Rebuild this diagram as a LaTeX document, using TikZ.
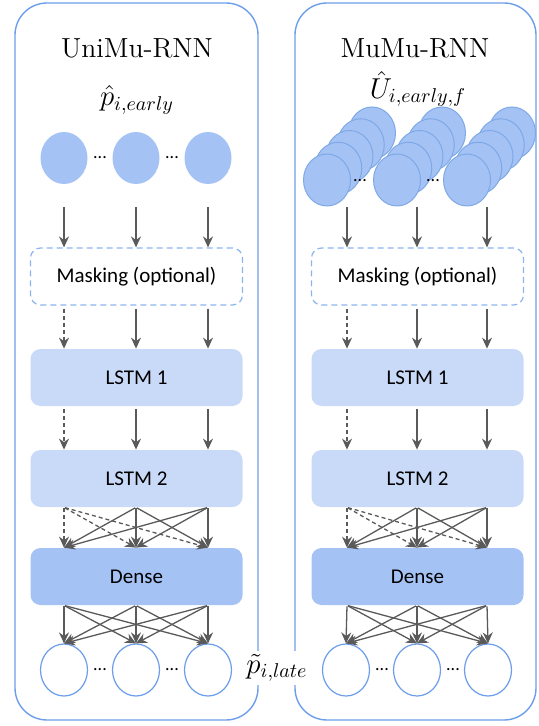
\documentclass[tikz,border=0pt]{standalone}
\usepackage{fontspec}
\setsansfont{Carlito}
\usetikzlibrary{arrows.meta,shapes.geometric}

\definecolor{panelblue}{HTML}{6D9EEB}
\definecolor{maskblue}{HTML}{8DB4EF}
\definecolor{circfill}{HTML}{A4C2F4}
\definecolor{circedge}{HTML}{7EA9E6}
\definecolor{lstmblue}{HTML}{C9DAF8}
\definecolor{denseblue}{HTML}{A4C2F4}
\definecolor{arrgray}{HTML}{5A5A5A}

\tikzset{
    panel/.style={draw=panelblue, line width=0.7pt, rounded corners=16pt},
    title/.style={font=\fontsize{13.8}{16}\selectfont, inner sep=0.5pt},
    layerbox/.style={rounded corners=5pt, minimum width=106pt, minimum height=28.5pt,
        font=\sffamily\fontsize{10.5}{12}\selectfont},
    maskbox/.style={layerbox, draw=maskblue, line width=0.6pt, dash pattern=on 3pt off 2pt},
    lstmbox/.style={layerbox, fill=lstmblue},
    densebox/.style={layerbox, fill=denseblue},
    incirc/.style={ellipse, fill=circfill, minimum width=23.5pt, minimum height=26pt, inner sep=0pt},
    stackcirc/.style={incirc, draw=circedge, line width=0.5pt},
    outcirc/.style={ellipse, draw=panelblue, fill=white, line width=0.6pt,
        minimum width=23.5pt, minimum height=26pt, inner sep=0pt},
    dotsnode/.style={font=\sffamily\fontsize{9}{10}\selectfont, inner sep=0pt},
    arr/.style={draw=arrgray, line width=0.65pt, -{Stealth[length=5.5pt,width=5pt]}},
    darr/.style={arr, dash pattern=on 2pt off 1.5pt}
}

\begin{document}
\begin{tikzpicture}[x=0.5pt, y=-0.5pt]
    \useasboundingbox (0,0) rectangle (538,726);
    \draw[panel] (15,3) rectangle (258,720);
    \draw[panel] (295,3) rectangle (536,720);

    \node[title] (uniname) at (137,48) {UniMu-RNN};
    \node[title] (muname) at (415,48) {MuMu-RNN};
    \node[title] (pearly) at (137,100) {$\hat{p}_{i,early}$};
    \node[title] (uearly) at (418,89) {$\hat{U}_{i,early,f}$};

    \node[incirc] (u1) at (64,158) {};
    \node[incirc] (u2) at (136,158) {};
    \node[incirc] (u3) at (208,158) {};
    \node[dotsnode] (ud1) at (100,158) {...};
    \node[dotsnode] (ud2) at (172,158) {...};

    \foreach \k/\fx in {1/327,2/397,3/467}
        \foreach \i in {4,3,2,1,0}
            \node[stackcirc] (s\k-\i) at ({\fx+11.25*\i},{180-11.75*\i}) {};
    \node[dotsnode] (sd1) at (360,181) {...};
    \node[dotsnode] (sd2) at (433,181) {...};

    \coordinate (a1) at (64,207);
    \coordinate (a2) at (136,207);
    \coordinate (a3) at (208,207);
    \coordinate (b1) at (347,207);
    \coordinate (b2) at (417,207);
    \coordinate (b3) at (487,207);

    \node[maskbox] (maskL) at (136.5,276.5) {Masking (optional)};
    \node[lstmbox] (lstmaL) at (136.5,377.5) {LSTM 1};
    \node[lstmbox] (lstmbL) at (136.5,478.5) {LSTM 2};
    \node[densebox] (denseL) at (136.5,576.5) {Dense};

    \node[maskbox] (maskR) at (417.5,276.5) {Masking (optional)};
    \node[lstmbox] (lstmaR) at (417.5,377.5) {LSTM 1};
    \node[lstmbox] (lstmbR) at (417.5,478.5) {LSTM 2};
    \node[densebox] (denseR) at (417.5,576.5) {Dense};

    \node[outcirc] (o1) at (64,670) {};
    \node[outcirc] (o2) at (136,670) {};
    \node[outcirc] (o3) at (208,670) {};
    \node[dotsnode] (od1) at (100,670) {...};
    \node[dotsnode] (od2) at (172,670) {...};
    \node[outcirc] (q1) at (346,670) {};
    \node[outcirc] (q2) at (417,670) {};
    \node[outcirc] (q3) at (488,670) {};
    \node[dotsnode] (qd1) at (382,670) {...};
    \node[dotsnode] (qd2) at (453,670) {...};

    \node[title, fill=white, inner sep=1.5pt] (plate) at (277,668) {$\tilde{p}_{i,late}$};

    \foreach \c in {1,2,3} {
        \draw[arr] (a\c) -- (a\c |- maskL.north);
        \draw[arr] (b\c) -- (b\c |- maskR.north);
    }
    \draw[darr, shorten <=1.5pt] (maskL.south -| a1) -- (lstmaL.north -| a1);
    \draw[darr, shorten <=1.5pt] (lstmaL.south -| a1) -- (lstmbL.north -| a1);
    \draw[darr, shorten <=1.5pt] (maskR.south -| b1) -- (lstmaR.north -| b1);
    \draw[darr, shorten <=1.5pt] (lstmaR.south -| b1) -- (lstmbR.north -| b1);
    \foreach \c in {2,3} {
        \draw[arr, shorten <=1.5pt] (maskL.south -| a\c) -- (lstmaL.north -| a\c);
        \draw[arr, shorten <=1.5pt] (lstmaL.south -| a\c) -- (lstmbL.north -| a\c);
        \draw[arr, shorten <=1.5pt] (maskR.south -| b\c) -- (lstmaR.north -| b\c);
        \draw[arr, shorten <=1.5pt] (lstmaR.south -| b\c) -- (lstmbR.north -| b\c);
    }

    \foreach \t in {1,2,3} {
        \draw[darr, shorten <=0.5pt] (lstmbL.south -| a1) -- (denseL.north -| a\t);
        \draw[darr, shorten <=0.5pt] (lstmbR.south -| b1) -- (denseR.north -| b\t);
        \foreach \s in {2,3} {
            \draw[arr, shorten <=0.5pt] (lstmbL.south -| a\s) -- (denseL.north -| a\t);
            \draw[arr, shorten <=0.5pt] (lstmbR.south -| b\s) -- (denseR.north -| b\t);
        }
        \foreach \s in {1,2,3} {
            \draw[arr, shorten <=0.5pt] (denseL.south -| a\s) -- (o\t.north);
            \draw[arr, shorten <=0.5pt] (denseR.south -| b\s) -- (q\t.north);
        }
    }
\end{tikzpicture}
\end{document}
